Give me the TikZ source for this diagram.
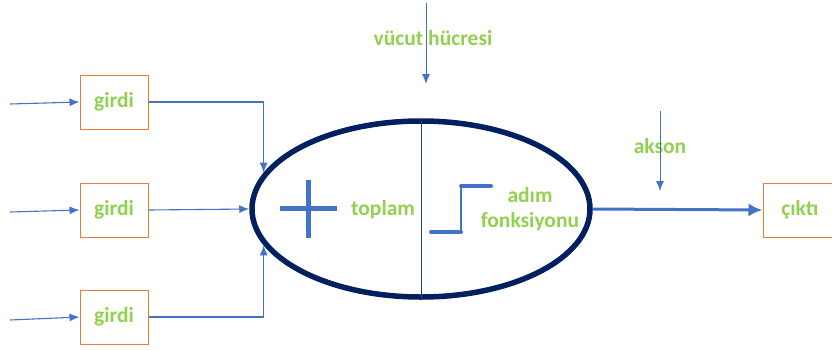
\documentclass[tikz,border=0pt]{standalone}
\usepackage{fontspec}
\setmainfont{Carlito}
\usetikzlibrary{shapes.geometric,arrows.meta}
\definecolor{lblgreen}{RGB}{146,208,80}
\definecolor{boxorange}{RGB}{237,125,49}
\definecolor{wireblue}{RGB}{68,114,196}
\definecolor{cellnavy}{RGB}{0,32,96}
\tikzset{
  lbl/.style={font=\bfseries\fontsize{21.5}{25}\selectfont,text=lblgreen,inner sep=0pt},
  inbox/.style={lbl,draw=boxorange,line width=1pt,minimum width=68pt,minimum height=54pt},
  wire/.style={wireblue,line width=1.1pt}
}
\begin{document}
\begin{tikzpicture}[x=1pt,y=-1pt,>={Latex[length=10pt,width=8pt]}]
\useasboundingbox (0,0) rectangle (832,349);
\clip (0,0) rectangle (832,349);
\node[inbox] (g1) at (114,102) {girdi};
\node[inbox] (g2) at (114,210) {girdi};
\node[inbox] (g3) at (114,317) {girdi};
\node[inbox,minimum width=78pt] (out) at (802,210) {\hspace*{-4pt}çıktı};
\node[draw=cellnavy,line width=5.5pt,ellipse,minimum width=338pt,minimum height=176pt,inner sep=0pt] (cell) at (421,209) {};
\draw[cellnavy!60!wireblue,line width=1pt] (cell.north) -- (cell.south);
\coordinate (s1) at (10,104);
\coordinate (s2) at (10,212);
\coordinate (s3) at (10,320);
\draw[wire,->] (s1) -- (g1.west);
\draw[wire,->] (s2) -- (g2.west);
\draw[wire,->] (s3) -- (g3.west);
\draw[wire,->] (g1.east) -| (cell.167);
\draw[wire,->] (g2.east) -- (cell.west);
\draw[wire,->] (g3.east) -| (cell.193);
\draw[wireblue,line width=5pt] (280,208) -- (337,208) (308,180) -- (308,238);
\node[lbl] (sum) at (383,210) {toplam};
\draw[wireblue,line width=4pt,line cap=round] (431,232) -- (461,232);
\draw[wireblue,line width=1.5pt] (461,232) -- (461,186);
\draw[wireblue,line width=4pt,line cap=round] (461,186) -- (491,186);
\node[lbl,align=center] (step) at (530,209) {adım\\fonksiyonu};
\draw[wireblue,line width=3pt,-{Latex[length=14pt,width=13pt]}] (cell.east) -- (out.west);
\node[lbl] (body) at (433,38) {vücut hücresi};
\coordinate (b0) at (426,3);
\coordinate (b1) at (426,84);
\draw[wireblue,line width=1pt,->] (b0) -- (b1);
\node[lbl] (axon) at (660,146) {akson};
\coordinate (a0) at (660,111);
\coordinate (a1) at (660,191);
\draw[wireblue,line width=1pt,->] (a0) -- (a1);
\end{tikzpicture}
\end{document}
